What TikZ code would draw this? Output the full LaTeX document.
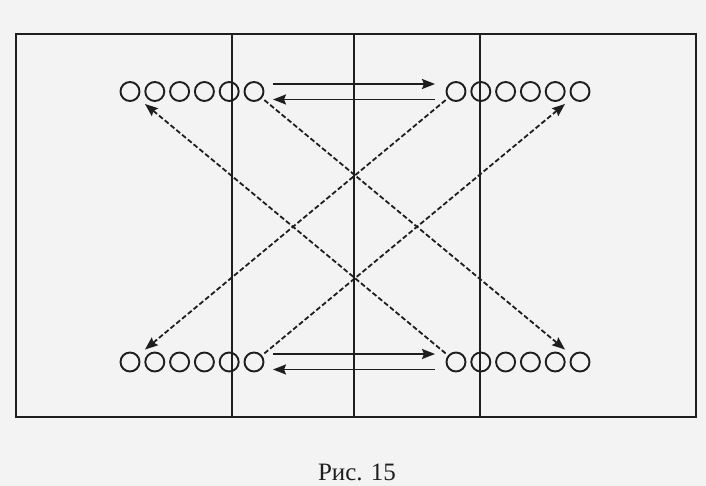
\documentclass[tikz,border=0pt]{standalone}
\usepackage{fontspec}
\setmainfont{Liberation Serif}
\usetikzlibrary{arrows.meta}
\definecolor{ink}{RGB}{30,30,30}
\definecolor{paper}{RGB}{243,243,243}
\begin{document}
\begin{tikzpicture}[x=1pt,y=-1pt,
  player/.style={circle,draw=ink,line width=1.9pt,minimum size=19pt,inner sep=0pt},
  frame/.style={draw=ink,line width=2.4pt},
  zone/.style={draw=ink,line width=1.7pt},
  pass/.style={draw=ink,line width=1.9pt,-{Stealth[length=13pt,width=10pt,inset=2pt]}},
  run/.style={draw=ink,line width=1.8pt,dash pattern=on 5pt off 2.5pt,-{Stealth[length=13pt,width=10pt,inset=2pt]},shorten <=3pt,shorten >=9pt},
  caption/.style={font=\fontsize{25}{28}\selectfont,text=ink,inner sep=0pt,anchor=base}]
\fill[paper] (0,0) rectangle (706,486);
\useasboundingbox (0,0) rectangle (706,486);
% zones
\coordinate (z1t) at (232,34); \coordinate (z1b) at (232,417);
\coordinate (z2t) at (354,34); \coordinate (z2b) at (354,417);
\coordinate (z3t) at (480,34); \coordinate (z3b) at (480,417);
\draw[zone] (z1t) -- (z1b);
\draw[zone] (z2t) -- (z2b);
\draw[zone] (z3t) -- (z3b);
\draw[frame] (16,34) rectangle (696,417);
% players
\foreach \i in {1,...,6} {
  \node[player] (tl\i) at ({130+24.8*(\i-1)},91.5) {};
  \node[player] (tr\i) at ({456+24.8*(\i-1)},91.5) {};
  \node[player] (bl\i) at ({130+24.8*(\i-1)},362) {};
  \node[player] (br\i) at ({456+24.8*(\i-1)},362) {};
}
% horizontal passes
\coordinate (ta) at (273,84); \coordinate (tb) at (435,84);
\coordinate (tc) at (435,99.5); \coordinate (td) at (273,99.5);
\coordinate (ba) at (273,354); \coordinate (bb) at (435,354);
\coordinate (bc) at (435,369.5); \coordinate (bd) at (273,369.5);
\draw[pass] (ta) -- (tb);
\draw[pass] (tc) -- (td);
\draw[pass] (ba) -- (bb);
\draw[pass] (bc) -- (bd);
% diagonal runs
\draw[run] (tl6) -- (br6);
\draw[run] (tr1) -- (bl1);
\draw[run] (bl6) -- (tr6);
\draw[run] (br1) -- (tl1);
% caption
\node[caption] (cap) at (357,480) {Рис. 15};
\end{tikzpicture}
\end{document}
